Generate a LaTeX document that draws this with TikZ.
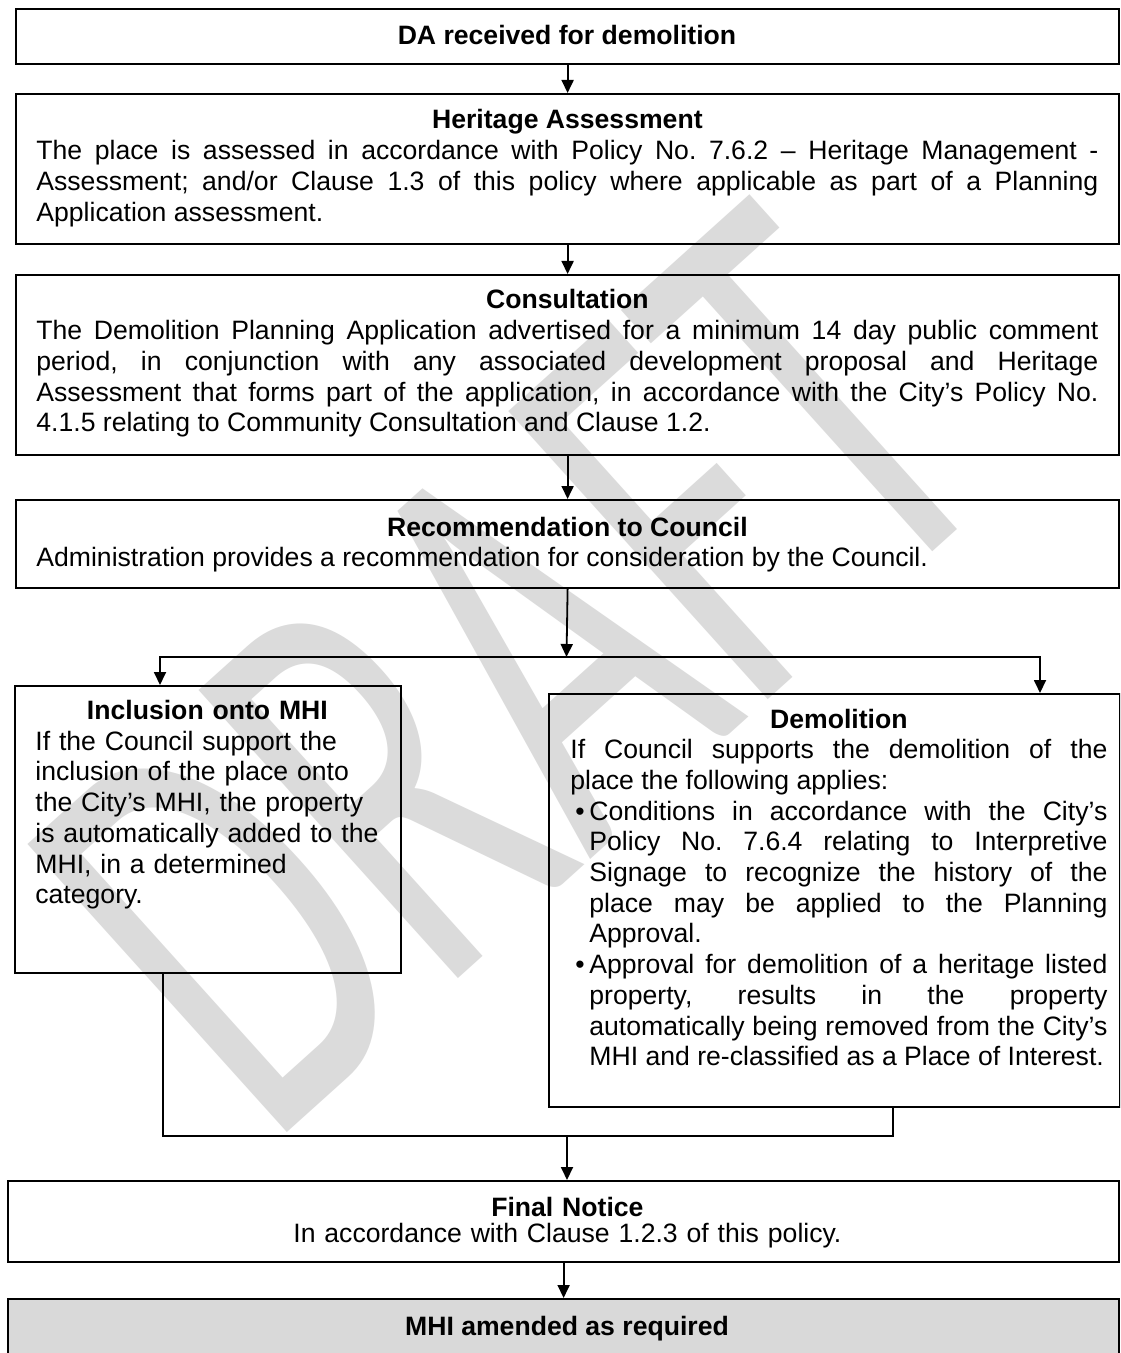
\documentclass[tikz,border=0pt]{standalone}
\usepackage{fontspec}
\setmainfont{Liberation Sans}
\newfontfamily\wmfont{Carlito}
\usetikzlibrary{arrows.meta}
\hbadness=10000 \hfuzz=20pt \tolerance=10000 \vbadness=10000
\frenchspacing
\begin{document}
\begin{tikzpicture}[x=0.5pt,y=-0.5pt,
  box/.style={draw=black, line width=1.1pt, inner sep=0pt, anchor=north west},
  conn/.style={line width=0.9pt, draw=black},
  tip/.tip={Triangle[width=6pt,length=6.5pt]},
  arr/.style={conn, -tip},
  txt/.style={inner sep=0pt, font=\fontsize{13.3pt}{15.35pt}\selectfont\frenchspacing},
  para/.style={txt, anchor=base west, align=justify},
  headline/.style={txt, anchor=base, font=\fontsize{13.3pt}{15.35pt}\selectfont\bfseries},
  wmark/.style={inner sep=0pt, anchor=base west, rotate=42, yscale=1.62, text=black!14, font=\wmfont\fontsize{186.5pt}{186.5pt}\selectfont}
]
\fill[white] (0,0) rectangle (1120,1353);
\useasboundingbox (0,0) rectangle (1120,1353);
\clip (0,0) rectangle (1120,1353);

% watermark
\node[wmark] (wm) at (268,1150) {DRAFT};

% boxes
\node[box, minimum width=551.5pt, minimum height=27.5pt] (b1) at (15,8) {};
\node[box, minimum width=551.5pt, minimum height=75pt] (b2) at (15,93) {};
\node[box, minimum width=551.5pt, minimum height=90pt] (b3) at (15,274) {};
\node[box, minimum width=551.5pt, minimum height=44pt] (b4) at (15,499) {};
\node[box, minimum width=193pt, minimum height=143.5pt] (inc) at (14,685) {};
\node[box, minimum width=285.5pt, minimum height=206.5pt] (dem) at (548,693) {};
\node[box, minimum width=555.5pt, minimum height=40.5pt] (fin) at (7,1180) {};
\node[box, fill=black!15, minimum width=555.5pt, minimum height=42pt] (mhi) at (7,1298) {};

% texts
\node[headline] (t1) at (567,44.5) {DA received for demolition};

\node[para, text width=531pt] (t2) at (36,129) {{\centering\bfseries Heritage Assessment\par}%
The place is assessed in accordance with Policy No. 7.6.2 – Heritage Management -\linebreak
Assessment; and/or Clause 1.3 of this policy where applicable as part of a Planning\linebreak
Application assessment.\par};

\node[para, text width=531pt] (t3) at (36,309) {{\centering\bfseries Consultation\par}%
The Demolition Planning Application advertised for a minimum 14 day public comment\linebreak
period, in conjunction with any associated development proposal and Heritage\linebreak
Assessment that forms part of the application, in accordance with the City’s Policy No.\linebreak
4.1.5 relating to Community Consultation and Clause 1.2.\par};

\node[para, text width=531pt] (t4) at (36,536) {{\centering\bfseries Recommendation to Council\par}%
Administration provides a recommendation for consideration by the Council.\par};

\node[para, text width=172pt, align=left] (t5) at (35,719.5) {{\centering\bfseries Inclusion onto MHI\par}%
If the Council support the\\
inclusion of the place onto\\
the City’s MHI, the property\\
is automatically added to the\\
MHI, in a determined\\
category.};

\node[para, text width=268.5pt] (t6) at (570,728) {{\centering\bfseries Demolition\par}%
If Council supports the demolition of the\linebreak
place the following applies:\par
\hangindent=9.5pt\hangafter=1\makebox[9.5pt][l]{\hspace{2.5pt}\textbullet}Conditions in accordance with the City’s\linebreak
Policy No. 7.6.4 relating to Interpretive\linebreak
Signage to recognize the history of the\linebreak
place may be applied to the Planning\linebreak
Approval.\par
\hangindent=9.5pt\hangafter=1\makebox[9.5pt][l]{\hspace{2.5pt}\textbullet}Approval for demolition of a heritage listed\linebreak
property, results in the property\linebreak
automatically being removed from the City’s\linebreak
MHI and re-classified as a Place of Interest.\par};

\node[para, text width=531pt, align=center] (t7) at (36,1216) {\textbf{Final Notice}\\[-2.3pt]In accordance with Clause 1.2.3 of this policy.};

\node[headline] (t8) at (567,1335) {MHI amended as required};

% connectors
\coordinate (bl) at (160,657);
\coordinate (bc) at (566.5,657);
\coordinate (bR) at (1040,657);
\coordinate (ml) at (163,1136);
\coordinate (mc) at (567,1136);
\coordinate (mr) at (893,1136);

\draw[arr] (b1.south) -- (b2.north);
\draw[arr] (b2.south) -- (b3.north);
\draw[arr] (b3.south) -- (b4.north);
\draw[arr] (b4.south) -- (bc);
\draw[conn, tip-tip] (inc.north -| bl) -- (bl) -- (bR) -- (dem.north -| bR);
\draw[conn] (inc.south -| ml) -- (ml) -- (mr) -- (dem.south -| mr);
\draw[arr] (mc) -- (fin.north -| mc);
\draw[arr] (fin.south) -- (mhi.north);
\end{tikzpicture}
\end{document}
